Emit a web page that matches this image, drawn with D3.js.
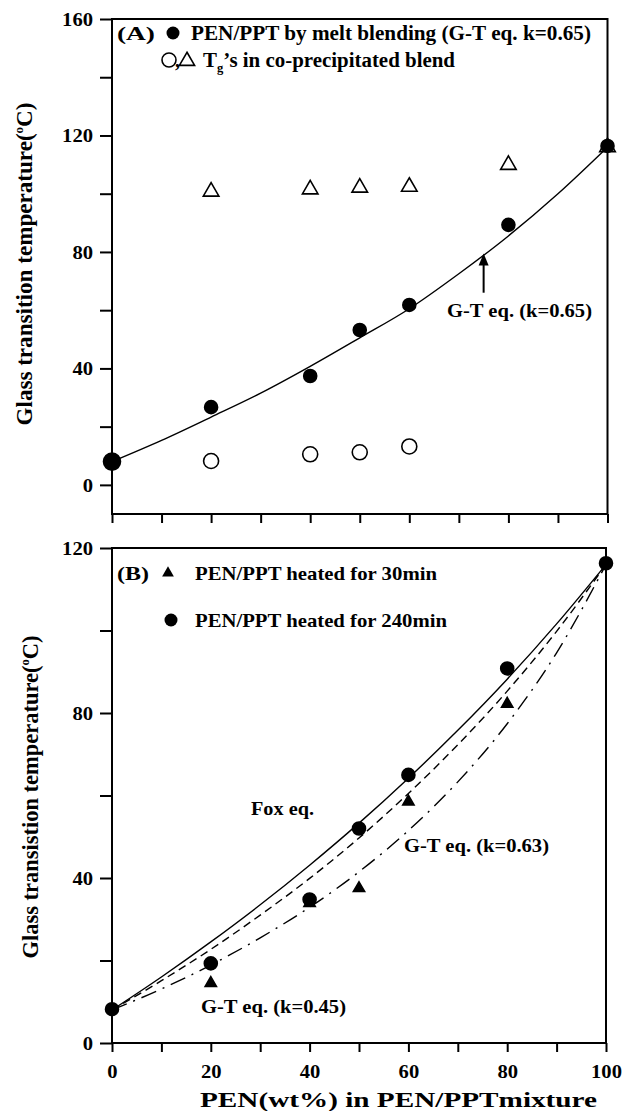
<!DOCTYPE html>
<html>
<head>
<meta charset="utf-8">
<script src="https://cdnjs.cloudflare.com/ajax/libs/d3/7.8.5/d3.min.js"></script>
<style>
  body { margin: 0; background: #fff; }
  text { font-family: "Liberation Serif", "Times New Roman", serif; font-weight: bold; fill: #000; }
</style>
</head>
<body>
<div id="chart"></div>
<script>
// ---- data ----
var curveX = [0, 10, 20, 30, 40, 50, 60, 70, 80, 90, 100];

// panel A
var meltX = [0, 20, 40, 50, 60, 80, 100];
var meltTg = [8, 26.7, 37.4, 53.2, 61.8, 89.3, 116.4];
var lowX = [20, 40, 50, 60];
var lowTg = [8.2, 10.5, 11.2, 13.2];
var highX = [20, 40, 50, 60, 80, 100];
var highTg = [100.7, 101.5, 102.1, 102.4, 109.9, 116];
var gtA = [8, 15.3, 23.3, 31.5, 40.7, 50.5, 60.5, 72.5, 85.5, 100, 116];

// panel B
var h240X = [0, 20, 40, 50, 60, 80, 100];
var h240Tg = [8.2, 19.3, 34.8, 52.0, 65.0, 90.8, 116.3];
var h30X = [20, 40, 50, 60, 80];
var h30Tg = [14.5, 33.9, 37.5, 58.5, 82.2];
var foxB = [8, 16.0, 24.5, 33.5, 43.1, 53.3, 64.2, 75.8, 88.2, 101.6, 116];
var gt063 = [8, 15.1, 22.7, 31.0, 39.9, 49.7, 60.5, 72.3, 85.3, 99.8, 116];
var gt045 = [8, 13.1, 18.9, 25.5, 32.9, 41.5, 51.5, 63.3, 77.4, 94.6, 116];

var xTicksAll = [0, 10, 20, 30, 40, 50, 60, 70, 80, 90, 100];
var xTickLabels = [0, 20, 40, 60, 80, 100];
var yTicksA = [0, 20, 40, 60, 80, 100, 120, 140, 160];
var yTicksB = [0, 20, 40, 60, 80, 100, 120];

var W = 631, H = 1111;
var svg = d3.select("#chart").append("svg")
    .attr("width", W)
    .attr("height", H);

var xA = d3.scaleLinear().domain([0, 100]).range([112, 607.5]);
var yA = d3.scaleLinear().domain([-10, 160]).range([514, 19]);
var xB = d3.scaleLinear().domain([0, 100]).range([112, 606]);
var yB = d3.scaleLinear().domain([0, 120]).range([1043, 548]);

// the original figure is stretched sideways, so text is fitted to measured widths
function label(x, y, size, len, str) {
    return svg.append("text").attr("x", x).attr("y", y).attr("font-size", size)
        .attr("textLength", len).attr("lengthAdjust", "spacingAndGlyphs").text(str);
}

function frame(x, y) {
    svg.append("rect")
        .attr("x", x.range()[0]).attr("y", y.range()[1])
        .attr("width", x.range()[1] - x.range()[0])
        .attr("height", y.range()[0] - y.range()[1])
        .attr("fill", "none").attr("stroke", "#000").attr("stroke-width", 2);
}

function axes(x, y, yTicks, showXLabels) {
    var gx = svg.append("g")
        .attr("transform", "translate(0," + y.range()[0] + ")")
        .call(d3.axisBottom(x).tickValues(xTicksAll).tickSizeInner(9).tickSizeOuter(0)
            .tickFormat(function (d) { return showXLabels && xTickLabels.indexOf(d) >= 0 ? d : ""; }));
    var gy = svg.append("g")
        .attr("transform", "translate(" + x.range()[0] + ",0)")
        .call(d3.axisLeft(y).tickValues(yTicks).tickSizeInner(12).tickSizeOuter(0)
            .tickFormat(function (d) { return d % 40 === 0 ? d : ""; }));
    [gx, gy].forEach(function (g) {
        g.select(".domain").remove();
        g.selectAll(".tick line").attr("stroke", "#000").attr("stroke-width", 2);
        g.selectAll(".tick text").attr("font-size", 19).attr("fill", "#000")
            .style("font-family", '"Liberation Serif", serif').style("font-weight", "bold")
            .attr("lengthAdjust", "spacingAndGlyphs")
            .attr("textLength", function (d) { return String(d).length * 10.3; });
    });
    gx.selectAll(".tick text").attr("y", 22).attr("dy", "0.7em");
    gy.selectAll(".tick text").attr("x", -19).attr("dy", "0.33em");
}

function line(x, y, xs, ys, dash) {
    svg.append("path")
        .datum(xs.map(function (d, i) { return [d, ys[i]]; }))
        .attr("fill", "none").attr("stroke", "#000").attr("stroke-width", 1.4)
        .attr("stroke-dasharray", dash || null)
        .attr("d", d3.line()
            .x(function (d) { return x(d[0]); })
            .y(function (d) { return y(d[1]); })
            .curve(d3.curveMonotoneX));
}

function circles(x, y, xs, ys, r, fill) {
    svg.append("g").selectAll("circle")
        .data(xs.map(function (d, i) { return [d, ys[i]]; }))
        .enter().append("circle")
        .attr("cx", function (d) { return x(d[0]); })
        .attr("cy", function (d) { return y(d[1]); })
        .attr("r", r)
        .attr("fill", fill)
        .attr("stroke", "#000").attr("stroke-width", 1.6);
}

function triangles(x, y, xs, ys, size, fill) {
    svg.append("g").selectAll("path")
        .data(xs.map(function (d, i) { return [d, ys[i]]; }))
        .enter().append("path")
        .attr("transform", function (d) { return "translate(" + x(d[0]) + "," + y(d[1]) + ")"; })
        .attr("d", d3.symbol(d3.symbolTriangle).size(size))
        .attr("fill", fill)
        .attr("stroke", "#000").attr("stroke-width", 1.6);
}

function yTitle(cx, cy, str) {
    var t = svg.append("text")
        .attr("transform", "translate(" + cx + "," + cy + ") rotate(-90)")
        .attr("text-anchor", "middle")
        .attr("font-size", 23)
        .attr("textLength", 323).attr("lengthAdjust", "spacingAndGlyphs");
    t.append("tspan").text(str + "(");
    t.append("tspan").attr("font-size", 13).attr("dy", -9).text("o");
    t.append("tspan").attr("dy", 9).text("C)");
}

// ---------- panel A ----------
frame(xA, yA);
axes(xA, yA, yTicksA, false);
line(xA, yA, curveX, gtA);
triangles(xA, yA, highX, highTg, 105, "#fff");
circles(xA, yA, lowX, lowTg, 7.5, "#fff");
circles(xA, yA, meltX.slice(1), meltTg.slice(1), 6.5, "#000");
circles(xA, yA, meltX.slice(0, 1), meltTg.slice(0, 1), 8.5, "#000");
yTitle(32, 264, "Glass transition temperature");

// legend A
label(117, 40, 18, 38, "(A)");
svg.append("circle").attr("cx", 173).attr("cy", 33).attr("r", 6.5).attr("fill", "#000");
label(191, 40, 20, 400, "PEN/PPT by melt blending (G-T eq. k=0.65)");
svg.append("circle").attr("cx", 169).attr("cy", 60).attr("r", 7).attr("fill", "#fff")
    .attr("stroke", "#000").attr("stroke-width", 1.6);
svg.append("text").attr("x", 175).attr("y", 67).attr("font-size", 20).text(",");
svg.append("path").attr("transform", "translate(187,61)")
    .attr("d", d3.symbol(d3.symbolTriangle).size(100))
    .attr("fill", "#fff").attr("stroke", "#000").attr("stroke-width", 1.6);
var tg = svg.append("text").attr("x", 203).attr("y", 67).attr("font-size", 20)
    .attr("textLength", 252).attr("lengthAdjust", "spacingAndGlyphs");
tg.append("tspan").text("T");
tg.append("tspan").attr("font-size", 12).attr("dy", 5).text("g");
tg.append("tspan").attr("dy", -5).text("\u2019s in co-precipitated blend");

// arrow annotation A
svg.append("line").attr("x1", xA(75)).attr("x2", xA(75)).attr("y1", yA(66)).attr("y2", yA(76))
    .attr("stroke", "#000").attr("stroke-width", 2);
svg.append("path")
    .attr("d", "M" + xA(75) + "," + yA(79.5) + "l-5,12l10,0z")
    .attr("fill", "#000");
label(447, 317, 18, 145, "G-T eq. (k=0.65)");

// ---------- panel B ----------
frame(xB, yB);
axes(xB, yB, yTicksB, true);
line(xB, yB, curveX, foxB);
line(xB, yB, curveX, gt063, "8,5");
line(xB, yB, curveX, gt045, "16,7,2,7");
triangles(xB, yB, h30X, h30Tg, 55, "#000");
circles(xB, yB, h240X, h240Tg, 6.5, "#000");
yTitle(38, 797, "Glass transistion temperature");

// legend B
label(117, 580, 18, 32, "(B)");
svg.append("path").attr("transform", "translate(168,573)")
    .attr("d", d3.symbol(d3.symbolTriangle).size(60)).attr("fill", "#000");
label(195, 580, 19, 242, "PEN/PPT heated for 30min");
svg.append("circle").attr("cx", 171).attr("cy", 620).attr("r", 6.5).attr("fill", "#000");
label(195, 627, 19, 252, "PEN/PPT heated for 240min");

label(251, 815, 18, 63, "Fox eq.");
label(404, 852, 18, 145, "G-T eq. (k=0.63)");
label(201, 1013, 18, 145, "G-T eq. (k=0.45)");

// x title
label(200, 1107, 21, 397, "PEN(wt%) in PEN/PPTmixture");
</script>
</body>
</html>
